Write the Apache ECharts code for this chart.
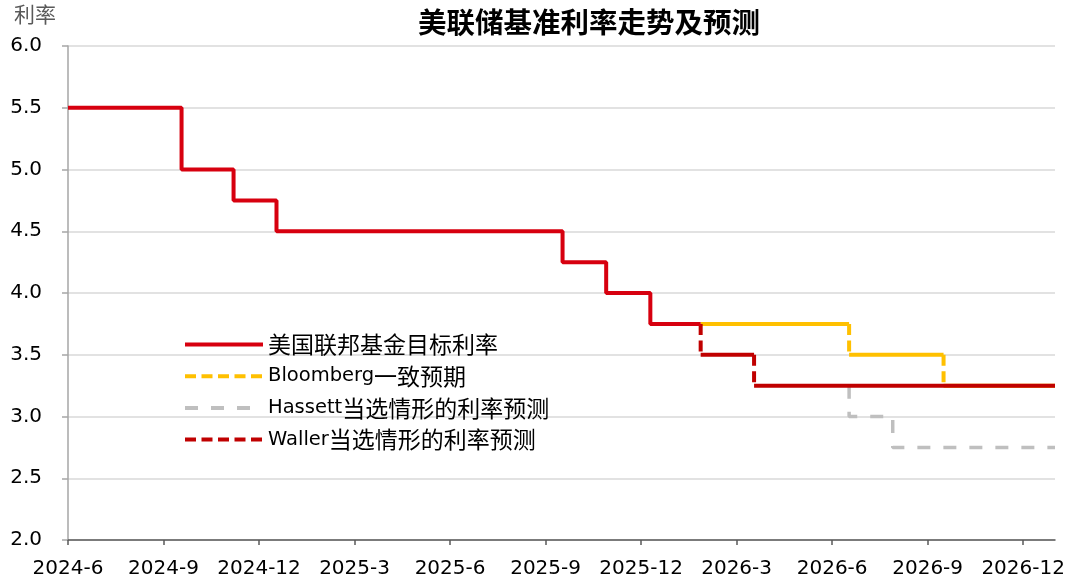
<!DOCTYPE html>
<html>
<head>
<meta charset="utf-8">
<script src="https://cdn.jsdelivr.net/npm/echarts@6/dist/echarts.min.js"></script>
<style>
html,body{margin:0;padding:0;background:#fff;}
#c{width:1080px;height:586px;}
</style>
</head>
<body>
<div id="c"></div>
<script>
// ---- data ----
const xTickLabels = ['2024-6','2024-9','2024-12','2025-3','2025-6','2025-9','2025-12','2026-3','2026-6','2026-9','2026-12'];
const yTickLabels = ['2.0','2.5','3.0','3.5','4.0','4.5','5.0','5.5','6.0'];

const fedDates = ['2024-06-01','2024-09-18','2024-11-07','2024-12-18','2025-09-17','2025-10-29','2025-12-10','2026-01-28'];
const fedRates = [5.5, 5.0, 4.75, 4.5, 4.25, 4.0, 3.75, 3.75];

const bbgDates = ['2026-01-28','2026-06-17','2026-09-16','2027-01-01'];
const bbgRates = [3.75, 3.5, 3.25, 3.25];

const hassettDates = ['2026-06-17','2026-06-17','2026-07-29','2027-01-01'];
const hassettRates = [3.25, 3.0, 2.75, 2.75];

const wallerDates = ['2026-01-28','2026-01-28','2026-03-18','2027-01-01'];
const wallerRates = [3.75, 3.5, 3.25, 3.25];

const seriesNames = ['美国联邦基金目标利率','Bloomberg一致预期','Hassett当选情形的利率预测','Waller当选情形的利率预测'];

// ---- helpers: date -> months since 2024-06 ----
function monthIndex(s){
  const p = s.split('-').map(Number);
  const y = p[0], mo = p[1], d = p[2] || 1;
  const dim = new Date(y, mo, 0).getDate();
  return (y - 2024) * 12 + (mo - 6) + (d - 1) / dim;
}
function monthLabel(v){
  const idx = Math.round(v) + 5;
  return (2024 + Math.floor(idx / 12)) + '-' + (idx % 12 + 1);
}
function stepPoints(dates, rates){
  return dates.map((d, i) => [monthIndex(d), rates[i]]);
}
function horizontals(dates, rates){
  const out = [];
  for (let i = 0; i < dates.length - 1; i++){
    const x0 = monthIndex(dates[i]), x1 = monthIndex(dates[i+1]);
    if (x1 > x0){ out.push([x0, rates[i]], [x1, rates[i]], ['-','-']); }
  }
  return out;
}
function verticals(dates, rates){
  const out = [];
  for (let i = 0; i < dates.length - 1; i++){
    const x1 = monthIndex(dates[i+1]);
    if (rates[i+1] !== rates[i]){ out.push([x1, rates[i]], [x1, rates[i+1]], ['-','-']); }
  }
  return out;
}

const xTicks = xTickLabels.map(l => monthIndex(l + '-1'));
const yVals = yTickLabels.map(Number);

const C_FED = '#D7000F', C_BBG = '#FFC000', C_HAS = '#BFBFBF', C_WAL = '#C00000';
const dashW = [11, 5.5];

const chart = echarts.init(document.getElementById('c'), null, {renderer: 'canvas'});
chart.setOption({
  animation: false,
  backgroundColor: '#fff',
  title: {
    text: '美联储基准利率走势及预测',
    left: 413, top: 3,
    textStyle: {fontFamily: 'Noto Sans CJK SC', fontSize: 28.5, fontWeight: 'bold', color: '#000'}
  },
  graphic: [{
    type: 'text', left: 14, top: 4,
    style: {text: '利率', fontFamily: 'Noto Sans CJK SC', fontSize: 21, fill: '#595959'}
  }],
  grid: {left: 68, right: 25, top: 46, bottom: 46, containLabel: false},
  legend: {
    orient: 'vertical', left: 178, top: 328,
    itemWidth: 78, itemHeight: 14, itemGap: 8.7,
    data: seriesNames,
    lineStyle: {width: 4},
    itemStyle: {opacity: 0, borderWidth: 0},
    formatter: function(name){
      const m = name.match(/^([A-Za-z]*)(.*)$/);
      return (m[1] ? '{en|' + m[1] + '}' : '') + '{zh|' + m[2] + '}';
    },
    textStyle: {
      color: '#000', lineHeight: 22,
      rich: {
        en: {fontFamily: 'DejaVu Sans', fontSize: 19.5, color: '#000', lineHeight: 22},
        zh: {fontFamily: 'Noto Sans CJK SC', fontSize: 23, color: '#000', lineHeight: 22}
      }
    }
  },
  xAxis: {
    type: 'value', min: 0, max: monthIndex('2027-01-01'),
    axisLine: {show: true, lineStyle: {color: '#595959', width: 1.5}},
    axisTick: {show: true, length: 5, customValues: xTicks, lineStyle: {color: '#595959', width: 1.5}},
    axisLabel: {
      customValues: xTicks,
      formatter: v => monthLabel(v),
      fontFamily: 'DejaVu Sans', fontSize: 20, color: '#000', margin: 19
    },
    splitLine: {show: false}
  },
  yAxis: {
    type: 'value', min: yVals[0], max: yVals[yVals.length - 1], interval: 0.5,
    axisLine: {show: true, lineStyle: {color: '#A6A6A6', width: 1.5}},
    axisTick: {show: true, inside: false, length: 6, lineStyle: {color: '#A6A6A6', width: 1.5}},
    axisLabel: {
      formatter: v => v.toFixed(1),
      fontFamily: 'DejaVu Sans', fontSize: 20, color: '#000', margin: 26
    },
    splitLine: {show: true, lineStyle: {color: '#D9D9D9', width: 1.5}}
  },
  series: [
    {
      name: seriesNames[2], type: 'line', z: 2, symbol: 'none', connectNulls: false,
      data: stepPoints(hassettDates, hassettRates), step: 'end',
      lineStyle: {color: C_HAS, width: 3.5, type: [13, 13], cap: 'butt'},
      itemStyle: {color: C_HAS}
    },
    {
      name: 'bbg-h', type: 'line', z: 3, symbol: 'none', connectNulls: false,
      data: horizontals(bbgDates, bbgRates),
      lineStyle: {color: C_BBG, width: 4}, itemStyle: {color: C_BBG}
    },
    {
      name: seriesNames[1], type: 'line', z: 3, symbol: 'none', connectNulls: false,
      data: verticals(bbgDates, bbgRates),
      lineStyle: {color: C_BBG, width: 4, type: dashW, cap: 'butt'}, itemStyle: {color: C_BBG}
    },
    {
      name: 'wal-h', type: 'line', z: 4, symbol: 'none', connectNulls: false,
      data: horizontals(wallerDates, wallerRates),
      lineStyle: {color: C_WAL, width: 4}, itemStyle: {color: C_WAL}
    },
    {
      name: seriesNames[3], type: 'line', z: 4, symbol: 'none', connectNulls: false,
      data: verticals(wallerDates, wallerRates),
      lineStyle: {color: C_WAL, width: 4, type: dashW, cap: 'butt'}, itemStyle: {color: C_WAL}
    },
    {
      name: seriesNames[0], type: 'line', z: 5, symbol: 'none', step: 'end',
      data: stepPoints(fedDates, fedRates),
      lineStyle: {color: C_FED, width: 4}, itemStyle: {color: C_FED}
    }
  ]
});
</script>
</body>
</html>
